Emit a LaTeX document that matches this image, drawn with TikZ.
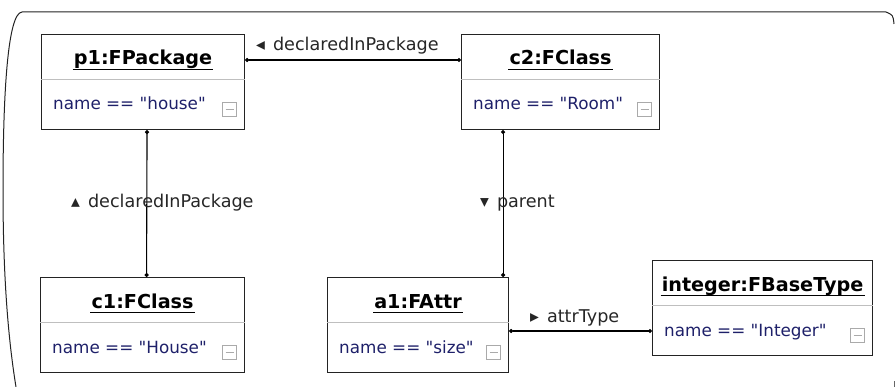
\documentclass[tikz,border=0pt]{standalone}
\usepackage{fontspec}
\setmainfont{DejaVu Sans}[Ligatures=TeXOff]
\usetikzlibrary{calc,arrows.meta}

\definecolor{attrblue}{RGB}{30,32,105}
\definecolor{edge}{RGB}{35,35,35}
\definecolor{iconline}{RGB}{170,170,170}

\tikzset{
  objbox/.style={draw=edge, line width=1.1pt, minimum height=95pt, inner sep=0pt, anchor=north west},
  objtitle/.style={font=\bfseries\fontsize{19.2}{21}\selectfont, inner sep=0pt, anchor=base},
  objattr/.style={font=\fontsize{16.8}{18}\selectfont, text=attrblue, inner sep=0pt, anchor=base west},
  sepline/.style={draw=black!25, line width=0.9pt},
  minusicon/.style={draw=iconline, line width=0.8pt, minimum size=14pt, inner sep=0pt,
    path picture={\draw[iconline, line width=0.9pt]
      ($(path picture bounding box.center)+(-4,0)$) -- ($(path picture bounding box.center)+(4,0)$);}},
  link/.style={draw=black, line width=1.1pt, {Circle[length=4pt]}-{Circle[length=4pt]}},
  linklabel/.style={font=\fontsize{17.6}{19}\selectfont, text=black!85, inner sep=0pt, anchor=base west},
}

% object box: name, x, y, width, title, attribute
\newcommand\umlobject[6]{%
  \node[objbox, minimum width=#4pt] (#1) at (#2,#3) {};
  \node[objtitle] (#1-t) at ($(#1.north)+(0,31)$) {#5};
  \draw[line width=1pt] ($(#1-t.base west)+(-1,4.5)$) -- ($(#1-t.base east)+(1,4.5)$);
  \draw[sepline] ($(#1.north west)+(0,45)$) -- ($(#1.north east)+(0,45)$);
  \node[objattr] (#1-a) at ($(#1.north west)+(12,76)$) {#6};
  \node[minusicon] (#1-i) at ($(#1.north east)+(-15.5,75.5)$) {};
}

\begin{document}
\begin{tikzpicture}[x=1pt, y=-1pt]
  \useasboundingbox (0,0) rectangle (896,387);

  % diagram frame
  \draw[edge, line width=1pt]
    (894,24) .. controls (893,15) .. (886,12) -- (22,12)
    .. controls (8,13) and (3,90) .. (3,190)
    .. controls (3,290) and (10,350) .. (16,387);
  \draw[black!60, line width=0.8pt] (894,381) -- (894,387);

  % objects
  \umlobject{p1}{41}{34}{203}{p1:FPackage}{name == "house"}
  \umlobject{c2}{461}{34}{198}{c2:FClass}{name == "Room"}
  \umlobject{c1}{40}{277}{204}{c1:FClass}{name == "House"}
  \umlobject{a1}{327}{277}{181}{a1:FAttr}{name == "size"}
  \umlobject{ib}{652}{260}{220}{integer:FBaseType}{name == "Integer"}

  % links
  \draw[link] ($(p1.north east)+(0,26)$) -- ($(c2.north west)+(0,26)$);
  \draw[link] ([xshift=4pt]p1.south) -- ([xshift=4pt]c1.north);
  \draw[link] ([xshift=-6pt]a1.north east |- c2.south) -- ([xshift=-6pt]a1.north east);
  \draw[link] (a1.east |- {$(ib.north west)+(0,71)$}) -- ($(ib.north west)+(0,71)$);

  % link labels
  \node[linklabel] (l1) at (256,51) {◂\hspace{8pt}declaredInPackage};
  \node[linklabel] (l2) at (71,208) {▴\hspace{8pt}declaredInPackage};
  \node[linklabel] (l3) at (480,208) {▾\hspace{8pt}parent};
  \node[linklabel] (l4) at (530,322) {▸\hspace{8pt}attrType};
\end{tikzpicture}
\end{document}
